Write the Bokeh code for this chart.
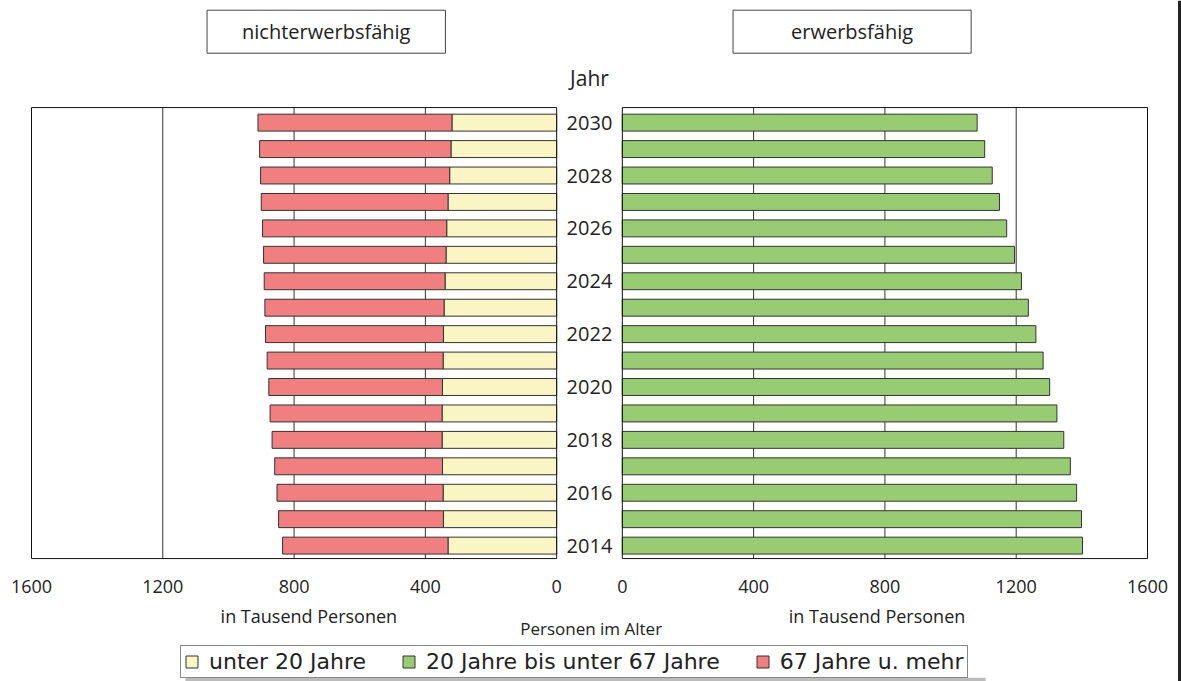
from bokeh.plotting import figure
from bokeh.models import Range1d, Label, Legend, LegendItem, ColumnDataSource
from bokeh.core.properties import value
from bokeh.embed import file_html
from bokeh.resources import INLINE

# ---------------- data (in Tausend Personen) ----------------
years = [2014, 2015, 2016, 2017, 2018, 2019, 2020, 2021, 2022,
         2023, 2024, 2025, 2026, 2027, 2028, 2029, 2030]
unter20 = [331, 345, 346, 348, 349, 349, 348, 346, 345,
           343, 340, 337, 335, 331, 326, 322, 319]
ab67 = [504, 502, 506, 511, 518, 524, 529, 536, 542,
        546, 551, 556, 561, 569, 576, 583, 591]
erwerb = [1402, 1399, 1384, 1365, 1345, 1324, 1302, 1282, 1260,
          1237, 1216, 1195, 1171, 1149, 1127, 1104, 1081]
tick_values = [0, 400, 800, 1200, 1600]
grid_values = [400, 800, 1200]
year_labels = [2014, 2016, 2018, 2020, 2022, 2024, 2026, 2028, 2030]
legend_labels = ["unter 20 Jahre", "20 Jahre bis unter 67 Jahre", "67 Jahre u. mehr"]
panel_titles = ["nichterwerbsfähig", "erwerbsfähig"]
unit_label = "in Tausend Personen"
axis_title = "Personen im Alter"
year_title = "Jahr"

# ---------------- styling / layout ----------------
YELLOW = "#FAF6C4"
GREEN = "#98CC72"
RED = "#F17F7F"
FONT = "Open Sans"
LEG_FONT = "DejaVu Sans"
TXT = "#222222"

GAP = 100           # half of the gap between the two panels (data units)
XMAX = 1600
X_LO, X_HI = -1794.4, 1803.6          # whole canvas in data units
Y_LO, Y_HI = 2008.86, 2034.62
Y_BOT, Y_TOP = 2013.51, 2030.57       # panel extent
Y_TICKS = 2012.45
Y_UNIT = 2011.35
Y_AXT = 2010.86
Y_JAHR = 2031.70
Y_TITLE = 2033.44
X_RULE = 1797.5

src = ColumnDataSource(dict(
    year=years,
    u_left=[-(GAP + u) for u in unter20],
    u_right=[-GAP for _ in unter20],
    o_left=[-(GAP + u + o) for u, o in zip(unter20, ab67)],
    o_right=[-(GAP + u) for u in unter20],
    e_left=[GAP for _ in erwerb],
    e_right=[GAP + e for e in erwerb],
))

p = figure(width=1181, height=681,
           x_range=Range1d(X_LO, X_HI), y_range=Range1d(Y_LO, Y_HI),
           output_backend="svg", toolbar_location=None,
           x_axis_location=None, y_axis_location=None,
           min_border=0)
p.outline_line_color = None
p.xgrid.visible = False
p.ygrid.visible = False

# gridlines
gx = [-(GAP + g) for g in grid_values] + [GAP + g for g in grid_values]
p.segment(x0=gx, x1=gx, y0=[Y_BOT] * len(gx), y1=[Y_TOP] * len(gx),
          line_color="#333333", line_width=1)

# bars
bh = 0.64
r_u = p.hbar(y="year", left="u_left", right="u_right", height=bh, source=src,
             fill_color=YELLOW, line_color="#333333", line_width=1)
r_o = p.hbar(y="year", left="o_left", right="o_right", height=bh, source=src,
             fill_color=RED, line_color="#333333", line_width=1)
r_e = p.hbar(y="year", left="e_left", right="e_right", height=bh, source=src,
             fill_color=GREEN, line_color="#333333", line_width=1)

# panel frames
p.quad(left=[-(GAP + XMAX), GAP], right=[-GAP, GAP + XMAX],
       bottom=[Y_BOT, Y_BOT], top=[Y_TOP, Y_TOP],
       fill_color=None, line_color="#111111", line_width=1)

# right page rule
p.segment(x0=[X_RULE], x1=[X_RULE], y0=[Y_LO], y1=[Y_HI], line_color="#222222", line_width=3)

# legend shadow
p.quad(left=[-1231], right=[1207], bottom=[Y_LO], top=[2009.0],
       fill_color="#BBBBBB", line_color=None)

# year labels in the middle
p.text(x=[0] * len(year_labels), y=year_labels, text=[str(y) for y in year_labels],
       text_align="center", text_baseline="middle",
       text_font=value(FONT), text_font_size="20px", text_color=TXT)

# x tick labels (both panels)
tx = [-(GAP + t) for t in tick_values] + [GAP + t for t in tick_values]
tt = [str(t) for t in tick_values] * 2
p.text(x=tx, y=[Y_TICKS] * len(tx), text=tt, text_align="center", text_baseline="middle",
       text_font=value(FONT), text_font_size="18px", text_color=TXT)

# other texts
p.add_layout(Label(x=0, y=Y_JAHR, text=year_title, text_align="center", text_baseline="middle",
                   text_font=FONT, text_font_size="21px", text_color=TXT))
p.add_layout(Label(x=5, y=Y_AXT, text=axis_title, text_align="center", text_baseline="middle",
                   text_font=FONT, text_font_size="17px", text_color=TXT))
for xv in (-855, 876):
    p.add_layout(Label(x=xv, y=Y_UNIT, text=unit_label, text_align="center",
                       text_baseline="middle", text_font=FONT, text_font_size="18px",
                       text_color=TXT))
for xv, t, pad in zip((-802, 800), panel_titles, ((35, 8), (58, 8))):
    p.add_layout(Label(x=xv, y=Y_TITLE, text=t, text_align="center", text_baseline="middle",
                       text_font=FONT, text_font_size="20px", text_color=TXT,
                       border_line_color="#444444", border_line_width=1,
                       background_fill_color="white", padding=pad))

legend = Legend(items=[LegendItem(label=legend_labels[0], renderers=[r_u]),
                       LegendItem(label=legend_labels[1], renderers=[r_e]),
                       LegendItem(label=legend_labels[2], renderers=[r_o])],
                location=(180, 3), orientation="horizontal",
                border_line_color="#111111", border_line_width=1,
                background_fill_color="white", background_fill_alpha=1,
                label_text_font=LEG_FONT, label_text_font_size="22px", label_text_color=TXT,
                glyph_width=15, glyph_height=15, label_standoff=10, spacing=35,
                padding=3, margin=0, label_height=22)
p.add_layout(legend)

open("out.html", "w").write(file_html(p, INLINE))
